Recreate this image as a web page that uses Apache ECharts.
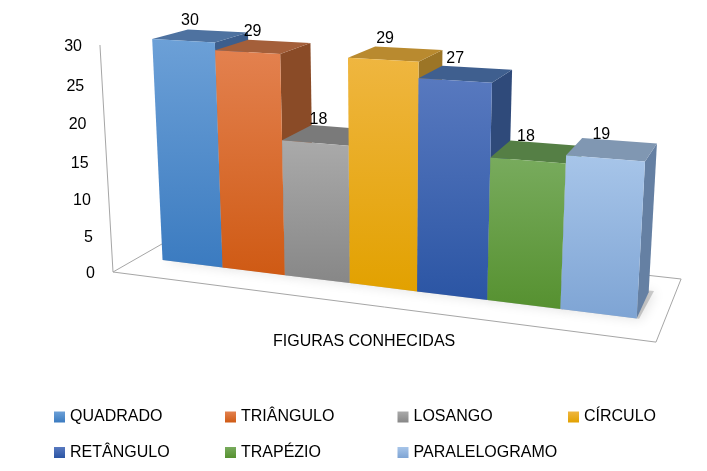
<!DOCTYPE html>
<html lang="pt">
<head>
    <meta charset="UTF-8">
    <title>Figuras conhecidas</title>
    <script type="text/javascript" src="https://cdn.jsdelivr.net/npm/echarts@6/dist/echarts.min.js"></script>
    <style>
        html, body { margin: 0; padding: 0; background: #fff; }
        #chart { width: 707px; height: 471px; }
    </style>
</head>
<body>
<div id="chart"></div>
<script>

    // dados
    var figuras = ['QUADRADO', 'TRIÂNGULO', 'LOSANGO', 'CÍRCULO', 'RETÂNGULO', 'TRAPÉZIO', 'PARALELOGRAMO'];
    var quantidades = [30, 29, 18, 29, 27, 18, 19];
    var yTicks = [0, 5, 10, 15, 20, 25, 30];

    // cores: frente (topo -> base), tampa, lado
    var corFrente = [
        ['#6ca0d7', '#3b7bc0'], ['#e3814f', '#cf5a14'], ['#aaaaaa', '#878787'], ['#efb640', '#e2a100'],
        ['#5879bf', '#2b55a4'], ['#78ab5d', '#569130'], ['#a7c5e9', '#7ea4d4']
    ];
    var corTopo = ['#4e72a0', '#a45f3a', '#7a7a7a', '#b98a2f', '#3f5f8f', '#557f45', '#8097b2'];
    var corLado = ['#3d5e8c', '#8a4b27', '#666666', '#9c7526', '#2f4a7a', '#456b35', '#6580a3'];

    var FONT = '"Liberation Sans", Arial, sans-serif';

    // camera (pontos de fuga em pixels) para imitar o 3D do Excel
    var VX = [-3000, -130], VY = [386, 5023], VZ = [852, -151];
    var PX = -0.14852, PY = -0.0456, PZ = 0.125;
    var MARGEM_E = 0.052, MARGEM_D = 0.045, FRENTE = 0.2915, FUNDO = 0.7144;

    // u: largura do piso (0..1), t: altura (0..1 do eixo), s: profundidade (0..1)
    function project(cs, u, t, s) {
        var p = PX * u, r = PY * t, q = PZ * s;
        var w = 1 + p + r + q;
        var x = cs.x + p * VX[0] + r * VY[0] + q * VZ[0];
        var y = cs.y + cs.height + p * VX[1] + r * VY[1] + q * VZ[1];
        return [x / w, y / w];
    }

    function grad(c) {
        return {
            type: 'linear', x: 0, y: 0, x2: 0, y2: 1,
            colorStops: [{offset: 0, color: c[0]}, {offset: 1, color: c[1]}]
        };
    }

    function renderFloor(params, api) {
        var cs = params.coordSys;
        var pts = [[0, 0], [1, 0], [1, 1], [0, 1]].map(function (c) {
            return project(cs, c[0], 0, c[1]);
        });
        var a = project(cs, 0, 0, 0), b = project(cs, 0, 1, 0);
        var children = [{
            type: 'polygon', shape: {points: pts}, z2: 0,
            style: {fill: '#fff', stroke: '#a6a6a6', lineWidth: 1}
        }, {
            type: 'line', z2: 0,
            shape: {x1: a[0], y1: a[1], x2: b[0], y2: b[1]},
            style: {stroke: '#a6a6a6', lineWidth: 1}
        }];
        yTicks.forEach(function (v) {
            var py = api.coord([0, v])[1];
            var t = (cs.y + cs.height - py) / cs.height;
            var pt = project(cs, 0, t, 0);
            children.push({
                type: 'text', z2: 0,
                style: {
                    text: String(v), x: pt[0] - 18, y: pt[1] + 2,
                    align: 'right', verticalAlign: 'middle',
                    fontSize: 16, fontFamily: FONT, fill: '#000'
                }
            });
        });
        return {type: 'group', children: children};
    }

    function renderBar(params, api) {
        var cs = params.coordSys;
        var i = api.value(0);
        var c = api.coord([i, api.value(1)]);
        var band = api.size([1, 0])[0];
        var f0 = (c[0] - band / 2 - cs.x) / cs.width;
        var f1 = (c[0] + band / 2 - cs.x) / cs.width;
        var u0 = MARGEM_E + (1 - MARGEM_E - MARGEM_D) * f0;
        var u1 = MARGEM_E + (1 - MARGEM_E - MARGEM_D) * f1;
        var t = (cs.y + cs.height - c[1]) / cs.height;

        var fbl = project(cs, u0, 0, FRENTE), fbr = project(cs, u1, 0, FRENTE);
        var ftl = project(cs, u0, t, FRENTE), ftr = project(cs, u1, t, FRENTE);
        var bbl = project(cs, u0, 0, FUNDO), bbr = project(cs, u1, 0, FUNDO);
        var btl = project(cs, u0, t, FUNDO), btr = project(cs, u1, t, FUNDO);

        var meio = project(cs, (u0 + u1) / 2, t, (FRENTE + FUNDO) / 2);
        var z = 10 + i;
        return {
            type: 'group',
            children: [{
                // sombra no piso
                type: 'polygon', z2: 1,
                shape: {points: [fbl, project(cs, u1 + 0.004, 0, FRENTE), project(cs, u1 + 0.008, 0, FUNDO + 0.03), bbl]},
                style: {fill: 'rgba(0,0,0,0.18)', shadowBlur: 12, shadowColor: 'rgba(0,0,0,0.6)', shadowOffsetX: 2, shadowOffsetY: 1}
            }, {
                type: 'polygon', z2: z,
                shape: {points: [fbr, ftr, btr, bbr]},
                style: {fill: corLado[i]}
            }, {
                type: 'polygon', z2: z,
                shape: {points: [ftl, ftr, btr, btl]},
                style: {fill: corTopo[i]}
            }, {
                type: 'polygon', z2: z,
                shape: {points: [fbl, fbr, ftr, ftl]},
                style: {fill: grad(corFrente[i])}
            }, {
                type: 'text', z2: 30,
                style: {
                    text: String(api.value(1)), x: meio[0] - 11, y: meio[1] - 15,
                    align: 'center', verticalAlign: 'middle',
                    fontSize: 16, fontFamily: FONT, fill: '#000'
                }
            }]
        };
    }

    var series = [{
        name: 'piso',
        type: 'custom',
        z: 1,
        silent: true,
        renderItem: renderFloor,
        data: [[0, 0]]
    }];
    figuras.forEach(function (nome, i) {
        series.push({
            name: nome,
            type: 'custom',
            z: 2,
            renderItem: renderBar,
            itemStyle: {color: grad(corFrente[i])},
            encode: {x: 0, y: 1},
            data: [[i, quantidades[i]]]
        });
    });

    function coluna(left, nomes) {
        return {
            orient: 'vertical',
            left: left,
            top: 402,
            icon: 'rect',
            itemWidth: 11,
            itemHeight: 11,
            itemGap: 15.5,
            data: nomes,
            textStyle: {fontSize: 16, lineHeight: 20, fontFamily: FONT, color: '#000'}
        };
    }

    var option = {
        animation: false,
        backgroundColor: '#fff',
        grid: {left: 113, right: 51, top: 46, bottom: 199},
        xAxis: {type: 'category', data: figuras, show: false},
        yAxis: {type: 'value', min: 0, max: 30, interval: 5, show: false},
        legend: [
            coluna(49, [figuras[0], figuras[4]]),
            coluna(220, [figuras[1], figuras[5]]),
            coluna(392.5, [figuras[2], figuras[6]]),
            coluna(563, [figuras[3]])
        ],
        graphic: [{
            type: 'text',
            left: 273,
            top: 334,
            style: {text: 'FIGURAS CONHECIDAS', fontSize: 16, fontFamily: FONT, fill: '#000'}
        }],
        series: series
    };

    var myChart = echarts.init(document.getElementById('chart'));
    myChart.setOption(option);

</script>
</body>
</html>
